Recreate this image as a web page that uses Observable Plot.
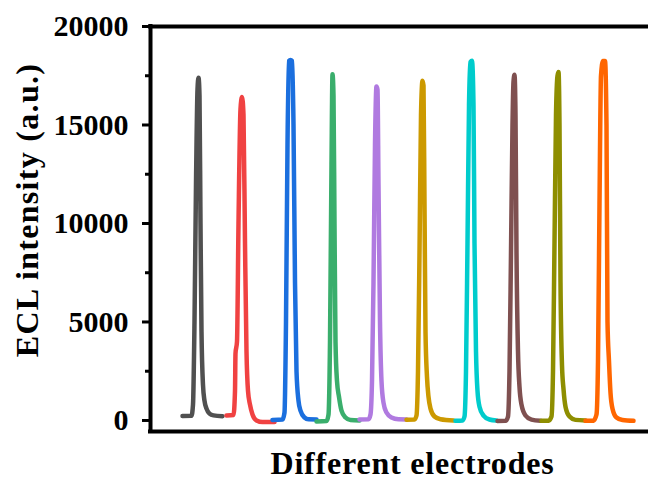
<!DOCTYPE html>
<html><head><meta charset="utf-8">
<script src="https://cdn.jsdelivr.net/npm/d3@7"></script>
<script src="https://cdn.jsdelivr.net/npm/@observablehq/plot@0.6"></script>
<style>html,body{margin:0;padding:0;background:#fff} svg{display:block}</style>
</head><body><div id="chart"></div>
<script>
// Electrodes and colours
const electrodes = ["E1","E2","E3","E4","E5","E6","E7","E8","E9","E10"];
const colors = ["#505050","#f04242","#1b6fde","#3aae6c","#b07ae0","#cc9900","#00cccc","#7f5050","#8e8e00","#ff6600"];

// ECL transients (time index, intensity a.u.)
const t1 = [32, 41, 42.5, 44, 45.5, 47, 48, 49, 50, 51, 52.5, 54, 56, 59, 63, 72];
const v1 = [230, 240, 800, 5000, 12000, 16800, 17400, 16500, 10000, 4500, 1800, 1000, 600, 350, 260, 220];
const t2 = [76, 83, 84.5, 85, 86.5, 88, 90, 91.5, 93, 94.5, 96, 97.5, 99.5, 102, 106, 112, 124];
const v2 = [250, 280, 1500, 3400, 4000, 10000, 15800, 16420, 15500, 9000, 3500, 1500, 800, 300, 0, -80, -80];
const t3 = [122, 132, 134, 135.5, 137, 138.5, 140, 141.5, 143, 144.5, 146, 148, 150, 154, 158, 166];
const v3 = [30, 50, 400, 5000, 14000, 18250, 18300, 18250, 15000, 7000, 2500, 1000, 500, 150, 60, 50];
const t4 = [166, 176, 178, 179.5, 181, 182, 183, 184, 185, 186.5, 188.5, 191, 195, 200, 209];
const v4 = [-50, -30, 300, 4000, 13000, 17570, 16500, 10000, 4000, 2000, 1200, 500, 150, 20, 0];
const t5 = [209, 218, 220, 221.5, 223, 224.5, 226, 227, 228, 229.5, 231, 233, 236, 241, 248, 256];
const v5 = [50, 60, 300, 2000, 7000, 14000, 16960, 16800, 12000, 5000, 2000, 900, 400, 150, 60, 50];
const t6 = [256, 264, 266, 267.5, 269, 270.5, 272, 273, 274, 275, 276.5, 278, 280, 284, 290, 303];
const v6 = [40, 50, 250, 2500, 8500, 15500, 17245, 17000, 11000, 4500, 2200, 1200, 600, 200, 60, 0];
const t7 = [305, 312, 314, 315.5, 317, 318.5, 320, 321.5, 323, 324, 325.5, 327, 329, 333, 339, 346];
const v7 = [-20, 0, 200, 2500, 9000, 16000, 18200, 18260, 16000, 9000, 3500, 1500, 700, 250, 50, 0];
const t8 = [347, 355, 357.5, 359, 360.5, 362, 363, 364, 365, 366, 367.5, 369, 371, 375, 381, 390];
const v8 = [-30, -20, 200, 2500, 8500, 15000, 17200, 17550, 15500, 8500, 3500, 1700, 800, 250, 40, -20];
const t9 = [391, 398, 401, 402.5, 404, 405.5, 407, 408, 409, 410, 411.5, 413, 415, 419, 425, 435];
const v9 = [-20, -10, 200, 2500, 9000, 15500, 17500, 17690, 15000, 7000, 2800, 1600, 700, 200, 30, 0];
const t10 = [435, 443, 446, 447.5, 449, 450.5, 452.5, 454.5, 456, 457, 458.5, 460, 462, 466, 472, 483];
const v10 = [-20, -10, 300, 3000, 11000, 17500, 18250, 18250, 15000, 5000, 3000, 1400, 600, 150, 20, -20];

const yTicks = [0, 5000, 10000, 15000, 20000];
const yMinorTicks = [2500, 7500, 12500, 17500];
const yTitle = "ECL intensity (a.u.)";
const xTitle = "Different electrodes";

const times = [t1,t2,t3,t4,t5,t6,t7,t8,t9,t10];
const values = [v1,v2,v3,v4,v5,v6,v7,v8,v9,v10];
const rows = [];
electrodes.forEach((e, i) => {
  times[i].forEach((t, j) => rows.push({electrode: e, t, v: values[i][j]}));
});

const font = "'Liberation Serif','Times New Roman',serif";
const chart = Plot.plot({
  width: 648, height: 481,
  marginTop: 26, marginBottom: 50, marginLeft: 150, marginRight: 0,
  style: {fontFamily: font, fontWeight: "bold", background: "#fff", color: "#000"},
  x: {domain: [0, 498], axis: null},
  y: {domain: [-560, 20000], axis: null},
  color: {domain: electrodes, range: colors},
  marks: [
    Plot.line(rows, {x: "t", y: "v", stroke: "electrode", z: "electrode", strokeWidth: 4.5, strokeLinecap: "round", strokeLinejoin: "round", curve: "monotone-x"}),
    Plot.axisY(yTicks, {anchor: "left", tickSize: 8, tickPadding: 14, fontSize: 30, fontWeight: "bold", strokeWidth: 3, label: null, tickFormat: "d"}),
    Plot.axisY(yMinorTicks, {anchor: "left", tickSize: 5, strokeWidth: 3, label: null, tickFormat: () => ""}),
    Plot.ruleX([0], {stroke: "#000", strokeWidth: 4, strokeLinecap: "square"}),
    Plot.ruleY([20000], {stroke: "#000", strokeWidth: 4, strokeLinecap: "square"}),
    Plot.ruleY([-560], {stroke: "#000", strokeWidth: 4, strokeLinecap: "square"}),
    Plot.text([yTitle], {frameAnchor: "left", textAnchor: "middle", lineAnchor: "middle", rotate: -90, dx: -123, dy: -19, fontSize: 32, fontWeight: "bold", fill: "#000", style: "letter-spacing:1.3px"}),
    Plot.text([xTitle], {frameAnchor: "bottom", textAnchor: "middle", dx: 13, dy: 42, fontSize: 32, fontWeight: "bold", fill: "#000"})
  ]
});
// widen titles slightly as in the reference
chart.querySelectorAll("text").forEach(t => {
  if (t.textContent === yTitle) t.setAttribute("letter-spacing", "1.3");
  if (t.textContent === xTitle) t.setAttribute("letter-spacing", "0.8");
});
document.getElementById("chart").appendChild(chart);
</script>
</body></html>
